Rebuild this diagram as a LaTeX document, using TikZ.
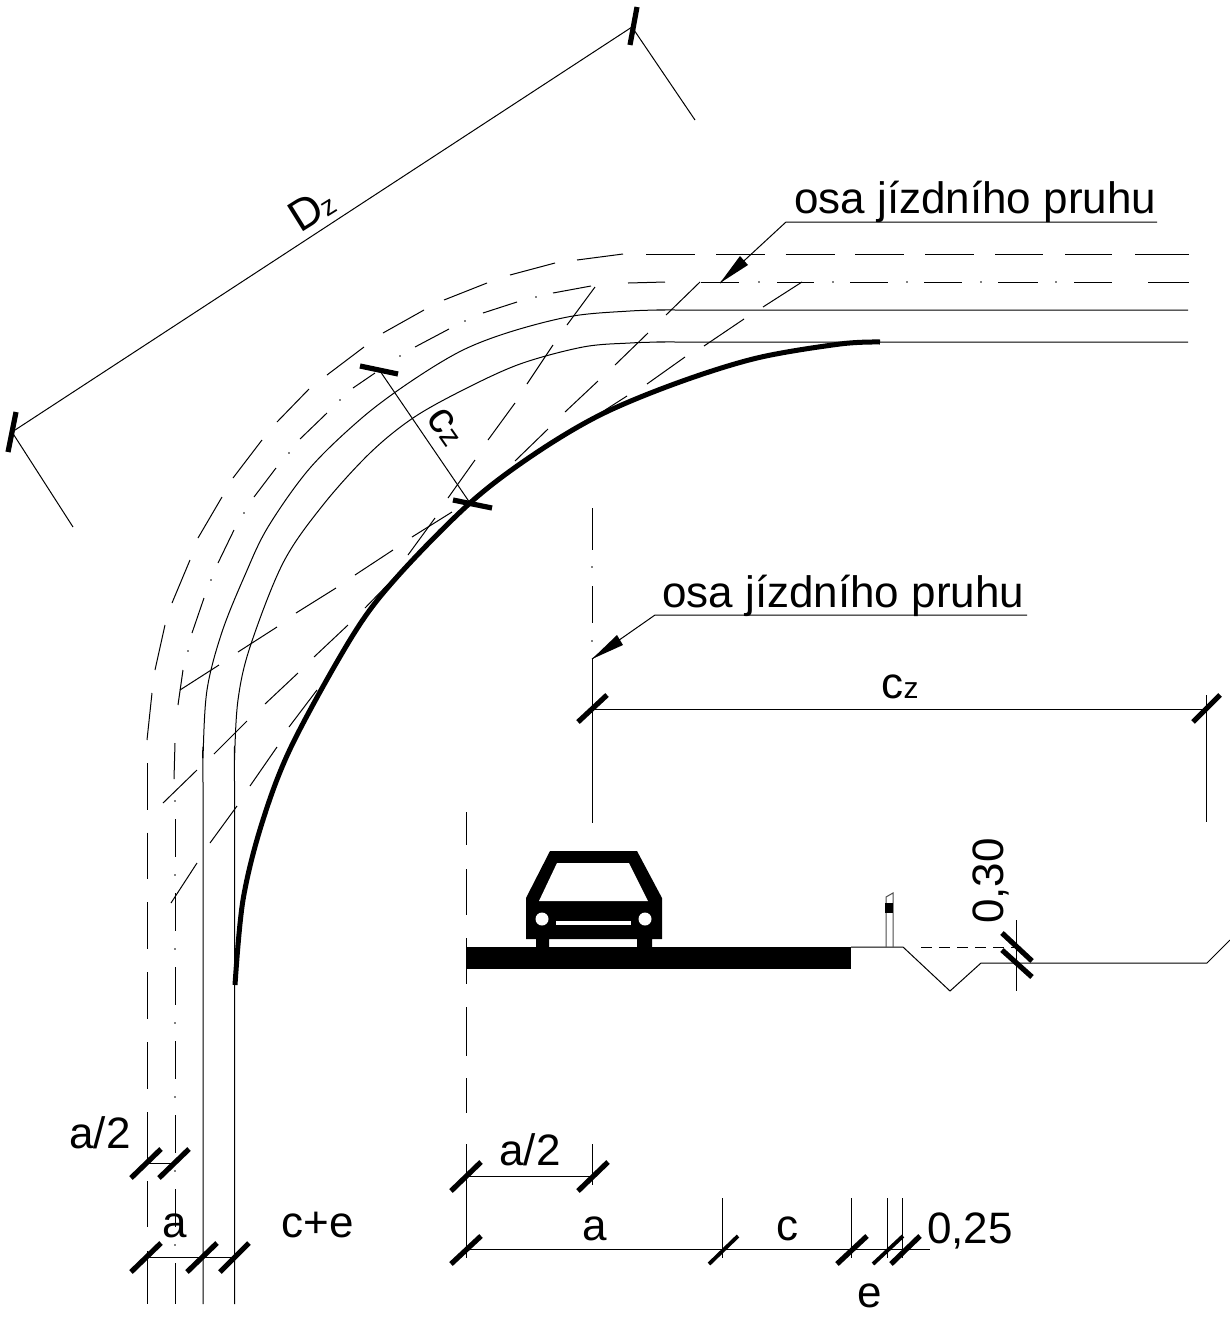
\documentclass[tikz,border=0pt]{standalone}
\usepackage{fontspec}
\setmainfont{Liberation Sans}
\begin{document}
\begin{tikzpicture}[x=1pt,y=-1pt,
  thinline/.style={line width=1pt,black},
  thickcurve/.style={line width=5pt,black,line join=round},
  dimtick/.style={line width=5.2pt,black},
  smalltick/.style={line width=3.8pt,black},
  lbl/.style={font=\fontsize{44}{48}\selectfont,inner sep=0pt,anchor=base},
  arrowhead/.style={fill=black,draw=none}]
\fill[white] (0,0) rectangle (1230,1318);
\useasboundingbox (0,0) rectangle (1230,1318);

% key coordinates
\coordinate (dzA) at (632,27);   \coordinate (dzB) at (12,432);
\coordinate (dzAx) at (695,120); \coordinate (dzBx) at (73,527);
\coordinate (czA) at (380,371);  \coordinate (czB) at (470,503);
\coordinate (L1tail) at (1157,222); \coordinate (L1knee) at (786,222); \coordinate (L1tip) at (720,283);
\coordinate (L2tail) at (1027,615); \coordinate (L2knee) at (655,615); \coordinate (L2tip) at (592,659);
\coordinate (hczA) at (592,709); \coordinate (hczB) at (1206,709);

% outer dashed edge: curve part
\foreach \a/\b in {{147,740}/{152,693},{155,670}/{165,625},{172,603}/{190,560},{198,538}/{222,497},
  {233,478}/{262,440},{277,422}/{309,389},{327,375}/{364,347},{383,333}/{424,310},{444,300}/{487,283},
  {510,275}/{555,263},{577,260}/{623,254}}
  \draw[thinline] (\a) -- (\b);
% outer dashed edge: straight parts
\foreach \s/\e in {646/695,716/765,785.5/834.5,855/904,925/974,995/1043,1065/1112,1135/1189}
  \draw[thinline] (\s,254) -- (\e,254);
\foreach \s/\e in {763/810,832.7/879,902/949,972/1019,1042/1089,1112/1159,1181/1227,1251/1304}
  \draw[thinline] (147,\s) -- (147,\e);

% lane axis, dash-dot: curve part
\foreach \a/\b in {{175,743}/{174,779},{178,705}/{183,670},{192,633}/{204,598},{218,563}/{234,530},
  {254,497}/{276,468},{300,439}/{327,413},{353,388}/{375,373},{415,347}/{449,329},{483,313}/{517,302},
  {553,293}/{591,286},{628,283}/{665,282}}
  \draw[thinline] (\a) -- (\b);
\foreach \a in {{188,651},{211,580},{244,513},{289,453},{340,400},{400,356},{465,321},{536,297}}
  \fill[black] (\a) circle[radius=.8];
% lane axis: straight parts
\foreach \s/\e in {700.5/739,777/814,850/888,924/962,998/1038,1074/1112,1148/1189}
  \draw[thinline] (\s,282) -- (\e,282);
\foreach \x in {759,833,907,981,1056}
  \fill[black] (\x,282) circle[radius=.8];
\foreach \s/\e in {819/857,893/931,967/1005,1041/1079,1115/1153,1189/1227,1263/1304} {
  \draw[thinline] (175,\s) -- (175,\e);
  \fill[black] (175,\s-18) circle[radius=.8];
}

% solid edges
\draw[thinline] plot[smooth,tension=.55] coordinates {(203,1304) (203,790) (203,758) (207,690) (222,632) (245,575) (268,527) (310,468)
  (363,417) (413,380) (463,350) (513,331) (573,316) (630,311) (665,310) (700,310) (1188,310)};
\draw[thinline] plot[smooth,tension=.55] coordinates {(234.5,1304) (234.5,790) (234.5,760) (238,700) (250,647) (283,563) (323,505)
  (370,453) (413,418) (463,390) (520,364) (583,347) (630,343) (665,342) (700,342) (1188,342)};

% hatch segments
\foreach \a/\b in {{595,287}/{567,325},{553,345}/{527,384},{515,403}/{488,440},{475,460}/{448,498},{435,518}/{408,555},
  {397,575}/{365,608},{348,625}/{314,657},{298,673}/{265,704},{247,721}/{214,754},{197,770}/{163,803},
  {700,282}/{666,315},{648,333}/{615,365},{598,381}/{565,412},{548,429}/{515,461},
  {802,282}/{763,307},{744,319}/{704,346},{685,357}/{647,384},{627,396}/{588,421},{498,479}/{473,498},
  {452,512}/{412,537},{393,550}/{355,575},{336,588}/{296,613},{277,627}/{238,652},{219,665}/{180,690},
  {317,690}/{289,727},{277,747}/{250,786},{237,806}/{210,843},{197,863}/{171,903}}
  \draw[thinline] (\a) -- (\b);

% thick curve
\draw[thickcurve] plot[smooth,tension=.55] coordinates {(235,985) (243,900) (262,823) (292,745) (353,635) (397,577) (470,503)
  (533,455) (600,415) (677,383) (757,358) (840,344) (880,342)};

% Dz dimension
\draw[thinline] (dzB) -- (dzA);
\draw[thinline] (dzA) -- (dzAx);
\draw[thinline] (dzB) -- (dzBx);
\draw[dimtick] (dzA) ++(-2,18) -- ++(7,-38);
\draw[dimtick] (dzB) ++(-4,20) -- ++(8,-40);
\node[lbl,anchor=base west,rotate=32] (dzlabel) at (300,234) {D{\fontsize{27}{27}\selectfont z}};

% cz radial dimension
\draw[thinline] (czA) -- (czB);
\draw[dimtick] (360,366) -- (398,374);
\draw[dimtick] (453,500) -- (492,508);
\node[lbl,rotate=-55] (czlabel) at (436,434) {c{\fontsize{30}{30}\selectfont z}};

% leaders
\node[lbl,anchor=base west] (osa1) at (794,213) {osa jízdního pruhu};
\draw[thinline] (L1tail) -- (L1knee) -- (L1tip);
\fill[arrowhead] (L1tip) -- (740,256) -- (748,265) -- cycle;
\node[lbl,anchor=base west] (osa2) at (662,607) {osa jízdního pruhu};
\draw[thinline] (L2tail) -- (L2knee) -- (L2tip);
\fill[arrowhead] (L2tip) -- (617,635) -- (623,645) -- cycle;

% section axis
\draw[thinline] (592,508) -- (592,550);
\fill[black] (592,567) circle[radius=.8];
\draw[thinline] (592,586) -- (592,623);
\fill[black] (592,641) circle[radius=.8];
\draw[thinline] (L2tip) -- (592,823);

% cz horizontal dimension
\draw[thinline] (hczA) -- (hczB);
\draw[thinline] (hczB) ++(0,-14) -- (1206,822);
\draw[dimtick] (hczA) ++(-14,13) -- ++(29,-27);
\draw[dimtick] (hczB) ++(-13,13) -- ++(27,-27);
\node[lbl] (czh) at (900,698) {c{\fontsize{30}{30}\selectfont z}};

% section left dashed axis
\foreach \a/\b in {812/845,869/915,938/984,1007/1056,1078/1113}
  \draw[thinline] (466,\a) -- (466,\b);
\draw[thinline] (466,1144) -- (466,1258);

% road and car
\fill[black] (466,947) rectangle (851,969);
\fill[black] (550,851) -- (637,851) -- (662,898) -- (662,939) -- (652,939) -- (652,947) -- (637,947) -- (637,939)
  -- (549,939) -- (549,947) -- (536,947) -- (536,939) -- (526,939) -- (526,898) -- cycle;
\fill[white] (557,863) -- (629,863) -- (648,901) -- (539,901) -- cycle;
\fill[white] (542,919) circle[radius=6.5];
\fill[white] (645,919) circle[radius=6.5];
\fill[white] (556,921) rectangle (631,925);

% roadside and post
\draw[thinline] (851,947) -- (903,947) -- (950,991) -- (981,963) -- (1207,963) -- (1230,940);
\draw[thinline,dash pattern=on 11pt off 7pt] (921,947) -- (1016,947);
\draw[line width=1pt,black!70] (886,947) -- (886,897) -- (893,893) -- (893,947);
\fill[black] (885,903) rectangle (893,913);

% 0,30 dimension
\draw[thinline] (1016,920) -- (1016,991);
\draw[dimtick] (1002,933) -- (1032,961);
\draw[dimtick] (1002,950) -- (1032,977);
\node[lbl,rotate=90] (h030) at (1003,881) {0,30};

% left bottom dimensions
\draw[thinline] (147,1163) -- (175,1163);
\draw[dimtick] (131,1178) -- (161,1149);
\draw[dimtick] (159,1178) -- (189,1149);
\draw[thinline] (147,1257) -- (234,1257);
\draw[dimtick] (131,1272) -- (161,1243);
\draw[dimtick] (187,1272) -- (217,1243);
\draw[dimtick] (220,1272) -- (249,1243);
\node[lbl] (a2left) at (100,1148) {a/2};
\node[lbl] (aleft) at (175,1237) {a};
\node[lbl] (cpe) at (318,1237) {c+e};

% right bottom dimensions
\draw[thinline] (466,1176) -- (592,1176);
\draw[thinline] (592,1144) -- (592,1185);
\draw[dimtick] (451,1191) -- (481,1162);
\draw[dimtick] (578,1191) -- (608,1162);
\draw[thinline] (466,1249) -- (930,1249);
\foreach \x in {722,851,887,902} \draw[thinline] (\x,1198) -- (\x,1258);
\draw[dimtick] (451,1264) -- (481,1236);
\draw[smalltick] (709,1264) -- (738,1236);
\draw[dimtick] (837,1264) -- (867,1236);
\draw[smalltick] (873,1264) -- (903,1236);
\draw[dimtick] (891,1264) -- (920,1236);
\node[lbl] (a2right) at (530,1165) {a/2};
\node[lbl] (aright) at (595,1240) {a};
\node[lbl] (cright) at (787,1240) {c};
\node[lbl] (eright) at (870,1307) {e};
\node[lbl,anchor=base west] (q025) at (927,1243) {0,25};
\end{tikzpicture}
\end{document}
